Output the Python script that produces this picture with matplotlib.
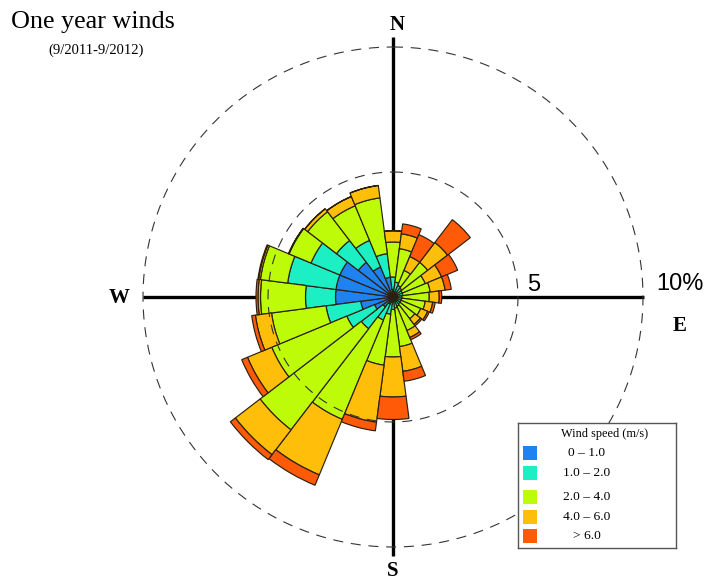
import matplotlib
matplotlib.use("Agg")
import matplotlib.pyplot as plt
import numpy as np
from matplotlib.patches import Rectangle

# wind direction (degrees from north), 15 degree sectors
directions = np.arange(0, 360, 15)

# frequency (%) per speed class and sector
speed_0_1 = [0.3, 0.2, 0.15, 0.15, 0.12, 0.1, 0.1, 0.1, 0.1, 0.1, 0.1, 0.12,
             0.15, 0.2, 0.3, 0.5, 0.8, 1.3, 2.3, 2.3, 2.3, 1.75, 1.3, 0.8]
speed_1_2 = [0.5, 0.4, 0.35, 0.3, 0.28, 0.3, 0.25, 0.25, 0.25, 0.25, 0.3, 0.33,
             0.35, 0.5, 0.7, 1.1, 1.2, 1.4, 1.2, 1.95, 1.25, 1.1, 1.15, 0.95]
speed_2_4 = [1.4, 1.35, 0.65, 1.3, 1.0, 1.1, 1.1, 0.95, 0.85, 0.75, 1.05, 1.55,
             1.9, 2.05, 4.3, 5.1, 3.25, 2.2, 1.8, 1.1, 0.95, 1.45, 1.5, 2.25]
speed_4_6 = [0.45, 0.6, 0.6, 1.0, 0.7, 0.6, 0.4, 0.3, 0.3, 0.28, 0.3, 1.0,
             1.6, 2.3, 2.4, 1.25, 1.05, 0.65, 0.1, 0.07, 0.02, 0.15, 0.4, 0.5]
speed_6_up = [0.0, 0.4, 0.95, 1.15, 0.7, 0.25, 0.1, 0.1, 0.07, 0.07, 0.1, 0.4,
              0.9, 0.35, 0.45, 0.25, 0.25, 0.15, 0.08, 0.03, 0.0, 0.0, 0.0, 0.0]

speed_labels = ["0 \u2013 1.0", "1.0 \u2013 2.0", "2.0 \u2013 4.0", "4.0 \u2013 6.0", "> 6.0"]
speed_colors = ["#1E82F0", "#1CEFC4", "#BDFB08", "#FFBE0A", "#FF5A08"]
series = [speed_0_1, speed_1_2, speed_2_4, speed_4_6, speed_6_up]

W, H = 714, 580
fig = plt.figure(figsize=(W / 100, H / 100), dpi=100)

def fx(px):
    return px / W

def fy(py):
    return 1 - py / H

# polar axes: centre (393, 297) px, 10 % = 250 px
cx, cy, R = 393, 297, 250
ax = fig.add_axes([fx(cx - R), fy(cy + R), 2 * R / W, 2 * R / H], projection="polar")
ax.set_theta_zero_location("N")
ax.set_theta_direction(-1)
ax.set_ylim(0, 10)
ax.set_xticks([])
ax.set_yticks([])
ax.grid(False)
ax.spines["polar"].set_visible(False)
ax.patch.set_alpha(0)

theta = np.radians(directions)
width = np.radians(15)

# compass cross (under the bars)
for a, r_end in [(0, 10.4), (90, 10.05), (180, 10.35), (270, 10.0)]:
    ax.plot([np.radians(a), np.radians(a)], [0, r_end], color="black", lw=2.4,
            zorder=1, clip_on=False, solid_capstyle="butt")

bottom = np.zeros(len(directions))
for vals, col in zip(series, speed_colors):
    vals = np.array(vals)
    ax.bar(theta, vals, width=width, bottom=bottom, color=col,
           edgecolor="#2b2010", linewidth=0.85, zorder=2)
    bottom += vals

# dashed rings on top
ring = np.linspace(0, 2 * np.pi, 400)
for r in [5, 10]:
    ax.plot(ring, np.full_like(ring, r), color="#333333", lw=0.8,
            linestyle=(0, (9, 7)), zorder=3, clip_on=False)

serif = "Liberation Serif"
sans = "Liberation Sans"
fig.text(fx(397), fy(25), "N", family=serif, weight="bold", fontsize=15, ha="center", va="center")
fig.text(fx(393), fy(571), "S", family=serif, weight="bold", fontsize=15, ha="center", va="center")
fig.text(fx(119), fy(298), "W", family=serif, weight="bold", fontsize=15, ha="center", va="center")
fig.text(fx(680), fy(326), "E", family=serif, weight="bold", fontsize=15, ha="center", va="center")
fig.text(fx(680), fy(284), "10%", family=sans, fontsize=17, ha="center", va="center")
fig.text(fx(534), fy(285), "5", family=sans, fontsize=17, ha="center", va="center")

fig.text(fx(11), fy(22), "One year winds", family=serif, fontsize=18.8, ha="left", va="center")
fig.text(fx(96), fy(50), "(9/2011-9/2012)", family=serif, fontsize=10.5, ha="center", va="center")

# legend box
lx0, ly0, lx1, ly1 = 518, 423, 676, 548
lax = fig.add_axes([fx(lx0), fy(ly1), (lx1 - lx0) / W, (ly1 - ly0) / H])
lax.set_xlim(0, lx1 - lx0)
lax.set_ylim(ly1 - ly0, 0)
lax.set_xticks([])
lax.set_yticks([])
for s in lax.spines.values():
    s.set_color("#555555")
    s.set_linewidth(1.0)
lax.text(87, 11, "Wind speed (m/s)", family=serif, fontsize=8.8, ha="center", va="center")
ys = [30, 50, 74, 94, 113]
for yy, lab, col in zip(ys, speed_labels, speed_colors):
    lax.add_patch(Rectangle((5, yy - 7), 14, 14, facecolor=col, edgecolor="none"))
    lax.text(69, yy, lab, family=serif, fontsize=9.7, ha="center", va="center")

fig.savefig("out.png", dpi=100)
